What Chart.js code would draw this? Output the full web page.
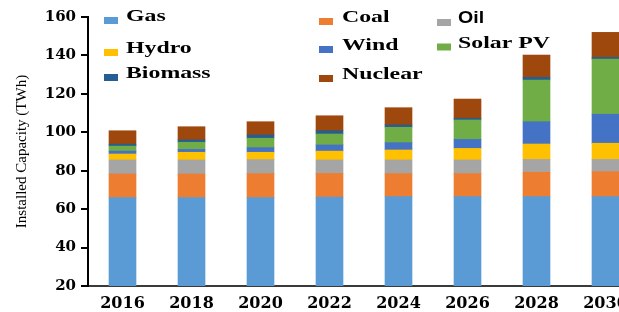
<!DOCTYPE html>
<html>
<head>
<meta charset="utf-8">
<script src="https://cdn.jsdelivr.net/npm/chart.js@4/dist/chart.umd.min.js"></script>
<style>
  html, body { margin: 0; padding: 0; overflow: hidden; background: #fff; }
  #wrap { width: 640px; height: 312px; position: relative; }
</style>
</head>
<body>
<div id="wrap"><canvas id="grafico"></canvas></div>
<script>
// Dados (TWh)
const anos = ['2016', '2018', '2020', '2022', '2024', '2026', '2028', '2030'];
const gas     = [66, 66, 66, 66.3, 66.5, 66.5, 66.5, 66.5];
const coal    = [12.3, 12.3, 12.5, 12.3, 12, 12, 12.7, 13];
const oil     = [7.3, 7.3, 7.3, 7, 7.1, 7.1, 6.7, 6.4];
const hydro   = [3.1, 4, 3.8, 4.6, 5.2, 6, 8, 8.4];
const wind    = [1.5, 1.5, 2.4, 3.2, 3.8, 4.7, 11.6, 15.1];
const solar   = [2.6, 3.7, 4.9, 5.7, 8, 10.1, 21.7, 28.7];
const biomass = [1, 1.2, 1.7, 1.7, 1.2, 0.9, 1.4, 0.9];
const nuclear = [7, 6.9, 6.9, 7.8, 9, 10, 11.6, 13];
const yTicks  = [20, 40, 60, 80, 100, 120, 140, 160];

const series = [
    { label: 'Gas',      data: gas,     cor: '#5B9BD5' },
    { label: 'Coal',     data: coal,    cor: '#ED7D31' },
    { label: 'Oil',      data: oil,     cor: '#A5A5A5' },
    { label: 'Hydro',    data: hydro,   cor: '#FFC000' },
    { label: 'Wind',     data: wind,    cor: '#4472C4' },
    { label: 'Solar PV', data: solar,   cor: '#70AD47' },
    { label: 'Biomass',  data: biomass, cor: '#255E91' },
    { label: 'Nuclear',  data: nuclear, cor: '#9E480E' }
];

// posições da legenda em 3 colunas (caixa x, texto x, linha de base)
const legendaPos = [
    [104, 126, 21], [319, 342, 22], [437, 458, 23],
    [104, 126, 53], [319, 342, 50], [437, 458, 47.5],
    [104, 126, 78], [319, 342, 79]
];

const legendaPlugin = {
    id: 'legendaGrade',
    afterDraw(chart) {
        const ctx = chart.ctx;
        chart.data.datasets.forEach((ds, i) => {
            const [bx, tx, base] = legendaPos[i];
            ctx.save();
            ctx.fillStyle = ds.backgroundColor;
            ctx.fillRect(bx, base - 4, 14, 7);
            ctx.fillStyle = '#000';
            ctx.textBaseline = 'alphabetic';
            ctx.translate(tx, base);
            if (ds.label === 'Oil') {
                ctx.font = 'bold 17px "Liberation Sans", Arial, sans-serif';
                ctx.scale(1.15, 1);
            } else {
                ctx.font = 'bold 17px "Liberation Serif", "Times New Roman", serif';
                ctx.scale(1.4, 1);
            }
            ctx.fillText(ds.label, 0, 0);
            ctx.restore();
        });
    }
};

const ctx = document.getElementById('grafico').getContext('2d');

new Chart(ctx, {
    type: 'bar',
    data: {
        labels: anos,
        datasets: series.map(s => ({
            label: s.label,
            data: s.data,
            backgroundColor: s.cor,
            barThickness: 27
        }))
    },
    options: {
        responsive: true,
        maintainAspectRatio: false,
        animation: false,
        layout: { padding: { top: 17, left: 0, right: 0, bottom: 0 } },
        scales: {
            x: {
                stacked: true,
                grid: { display: false },
                border: { display: true, color: '#3a3a3a', width: 2 },
                ticks: {
                    color: '#000',
                    padding: 0,
                    maxRotation: 0,
                    font: { family: '"DejaVu Serif", serif', weight: 'bold', size: 16 }
                },
                afterFit(scale) { scale.height = 26; }
            },
            y: {
                stacked: true,
                min: 20,
                max: 160,
                afterBuildTicks(scale) { scale.ticks = yTicks.map(v => ({ value: v })); },
                grid: {
                    display: true,
                    drawOnChartArea: false,
                    drawTicks: true,
                    tickLength: 7,
                    color: '#000',
                    lineWidth: 2
                },
                border: { display: true, color: '#000', width: 2 },
                ticks: {
                    color: '#000',
                    padding: 5,
                    font: { family: '"DejaVu Serif", serif', weight: 'bold', size: 15 }
                },
                title: {
                    display: true,
                    text: 'Installed Capacity (TWh)',
                    color: '#000',
                    padding: { top: 13, bottom: 0 },
                    font: { family: '"Liberation Serif", "Times New Roman", serif', size: 15, weight: 'normal' }
                },
                afterFit(scale) { scale.width = 88; }
            }
        },
        plugins: {
            legend: { display: false },
            tooltip: { enabled: false }
        }
    },
    plugins: [legendaPlugin]
});
</script>
</body>
</html>
